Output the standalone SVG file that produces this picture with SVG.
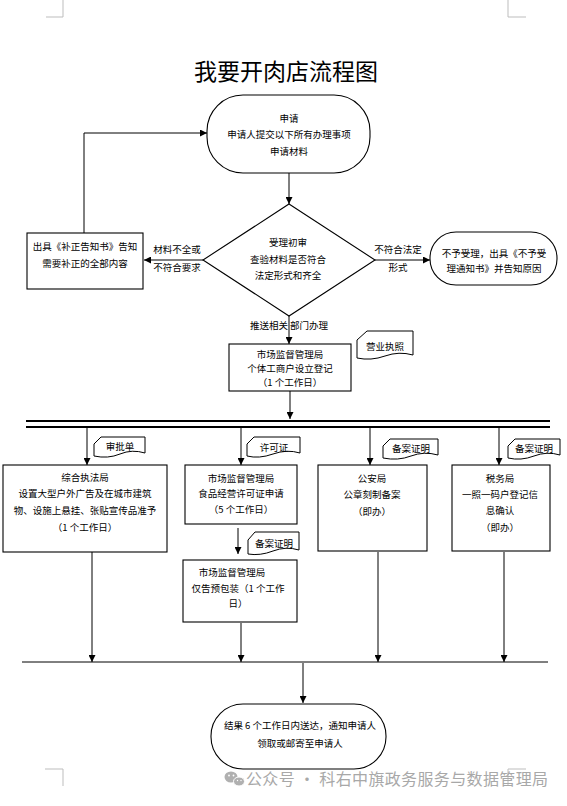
<svg xmlns="http://www.w3.org/2000/svg" width="567" height="806" viewBox="0 0 567 806">
<defs>
<marker id="ah" viewBox="0 0 10 10" refX="10" refY="5" markerWidth="7" markerHeight="7" markerUnits="userSpaceOnUse" orient="auto">
<path d="M0,0 L10,5 L0,10 Z" fill="#000"/>
</marker>
</defs>
<style>
.t{font-family:"Noto Sans CJK SC","Noto Sans",sans-serif;font-size:9.5px;fill:#000;text-anchor:middle}
.title{font-family:"Noto Sans CJK SC","Noto Sans",sans-serif;font-size:23px;fill:#000;text-anchor:middle}
.wm{font-family:"Noto Sans CJK SC","Noto Sans",sans-serif;font-size:16px;fill:#a8a8a8}
.box{fill:#fff;stroke:#000;stroke-width:1.1}
.doc{fill:#fff;stroke:#000;stroke-width:1}
.ln{fill:none;stroke:#000;stroke-width:1}
.arr{fill:none;stroke:#000;stroke-width:1;marker-end:url(#ah)}
.bar{fill:none;stroke:#000;stroke-width:2.2}
.crop{fill:none;stroke:#bdbdbd;stroke-width:1}
</style>
<rect width="567" height="806" fill="#fff"/>
<g id="cropmarks">
<path class="crop" d="M63,0 V17 H46"/>
<path class="crop" d="M508,0 V17 H526"/>
<path class="crop" d="M45,769 H63 V786"/>
<path class="crop" d="M526,769 H508 V786"/>
</g>
<text class="title" x="286" y="80">我要开肉店流程图</text>
<g id="connectors">
<path class="arr" d="M84,233 V133 H207"/>
<path class="arr" d="M289,173 V204"/>
<path class="arr" d="M203,260 H144"/>
<path class="arr" d="M375,260 H430"/>
<path class="arr" d="M289,316 V344"/>
<path class="arr" d="M290,391 V419"/>
<path class="bar" d="M26,421 H550 M26,427 H550"/>
<path class="arr" d="M87,428 V465"/>
<path class="arr" d="M241,428 V465"/>
<path class="arr" d="M370,428 V465"/>
<path class="arr" d="M499,428 V465"/>
<path class="arr" d="M238,528 V554"/>
<path class="arr" d="M92,552 V662"/>
<path class="arr" d="M241,623 V662"/>
<path class="arr" d="M378,552 V662"/>
<path class="arr" d="M504,552 V662"/>
<path class="ln" d="M22,662 H548"/>
<path class="arr" d="M303,663 V703"/>
</g>
<g id="n-apply">
<rect class="box" x="207" y="95" width="163" height="78" rx="36"/>
<text class="t" x="289" y="122">申请</text>
<text class="t" x="289" y="138">申请人提交以下所有办理事项</text>
<text class="t" x="289" y="155">申请材料</text>
</g>
<g id="n-check">
<path class="box" d="M289,204 L375,260 L289,316 L203,260 Z"/>
<text class="t" x="288" y="246">受理初审</text>
<text class="t" x="288" y="263">查验材料是否符合</text>
<text class="t" x="288" y="279">法定形式和齐全</text>
</g>
<g id="n-supplement">
<rect class="box" x="27" y="233" width="116" height="56"/>
<text class="t" x="85" y="250">出具《补正告知书》告知</text>
<text class="t" x="85" y="267">需要补正的全部内容</text>
</g>
<g id="n-reject">
<rect class="box" x="430" y="232" width="127" height="53" rx="26"/>
<text class="t" x="494" y="257">不予受理，出具《不予受</text>
<text class="t" x="494" y="272">理通知书》并告知原因</text>
</g>
<g id="labels">
<text class="t" x="177" y="253">材料不全或</text>
<text class="t" x="177" y="271">不符合要求</text>
<text class="t" x="398" y="253">不符合法定</text>
<text class="t" x="398" y="271">形式</text>
<text class="t" x="289" y="329">推送相关 部门办理</text>
</g>
<g id="n-market1">
<rect class="box" x="229" y="344" width="122" height="47"/>
<text class="t" x="290" y="358">市场监督管理局</text>
<text class="t" x="290" y="372">个体工商户设立登记</text>
<text class="t" x="290" y="386">（1 个工作日）</text>
</g>
<g id="d-license">
<path class="doc" d="M367,331 H413 V355 Q399,351 385,356 T357,358 V340 Z"/>
<text class="t" x="385" y="350">营业执照</text>
</g>
<g id="n-enforce">
<rect class="box" x="3" y="465" width="164" height="87"/>
<text class="t" x="85" y="481">综合执法局</text>
<text class="t" x="85" y="497">设置大型户外广告及在城市建筑</text>
<text class="t" x="85" y="514">物、设施上悬挂、张贴宣传品准予</text>
<text class="t" x="85" y="531">（1 个工作日）</text>
</g>
<g id="d-approval">
<path class="doc" d="M101,437 H145 V453 Q132,449 120,454 T94,456 V444 Z"/>
<text class="t" x="120" y="450">审批单</text>
</g>
<g id="n-market2">
<rect class="box" x="185" y="465" width="112" height="59"/>
<text class="t" x="241" y="482">市场监督管理局</text>
<text class="t" x="241" y="497">食品经营许可证申请</text>
<text class="t" x="241" y="513">（5 个工作日）</text>
</g>
<g id="d-permit">
<path class="doc" d="M254,437 H300 V453 Q287,449 273,454 T247,456 V444 Z"/>
<text class="t" x="274" y="451">许可证</text>
</g>
<g id="n-police">
<rect class="box" x="318" y="465" width="109" height="86"/>
<text class="t" x="372" y="482">公安局</text>
<text class="t" x="372" y="498">公章刻制备案</text>
<text class="t" x="372" y="515">（即办）</text>
</g>
<g id="d-record1">
<path class="doc" d="M390,439 H438 V455 Q424,451 411,456 T383,458 V446 Z"/>
<text class="t" x="411" y="452">备案证明</text>
</g>
<g id="n-tax">
<rect class="box" x="452" y="465" width="98" height="86"/>
<text class="t" x="500" y="482">税务局</text>
<text class="t" x="500" y="498">一照一码户登记信</text>
<text class="t" x="500" y="514">息确认</text>
<text class="t" x="500" y="531">（即办）</text>
</g>
<g id="d-record2">
<path class="doc" d="M515,439 H560 V455 Q547,451 534,456 T508,458 V446 Z"/>
<text class="t" x="534" y="452">备案证明</text>
</g>
<g id="n-market3">
<rect class="box" x="183" y="560" width="114" height="62"/>
<text class="t" x="232" y="576">市场监督管理局</text>
<text class="t" x="238" y="592">仅告预包装（1 个工作</text>
<text class="t" x="238" y="607">日）</text>
</g>
<g id="d-record3">
<path class="doc" d="M255,532 H299 V550 Q286,546 273,551 T248,554 V540 Z"/>
<text class="t" x="274" y="547">备案证明</text>
</g>
<g id="n-result">
<rect class="box" x="211" y="704" width="175" height="65" rx="32"/>
<text class="t" x="300" y="729">结果 6 个工作日内送达，通知申请人</text>
<text class="t" x="300" y="747">领取或邮寄至申请人</text>
</g>
<g id="watermark">
<ellipse cx="231" cy="777" rx="6.5" ry="5.5" fill="#b0b0b0"/>
<ellipse cx="239" cy="781.5" rx="5.5" ry="4.5" fill="#b0b0b0" stroke="#fff" stroke-width="1"/>
<circle cx="229" cy="775.5" r="0.9" fill="#fff"/>
<circle cx="233.5" cy="775.5" r="0.9" fill="#fff"/>
<circle cx="237.5" cy="780.5" r="0.7" fill="#fff"/>
<circle cx="241" cy="780.5" r="0.7" fill="#fff"/>
<text class="wm" x="246" y="785" textLength="302" lengthAdjust="spacing">公众号 · 科右中旗政务服务与数据管理局</text>
</g>
</svg>
